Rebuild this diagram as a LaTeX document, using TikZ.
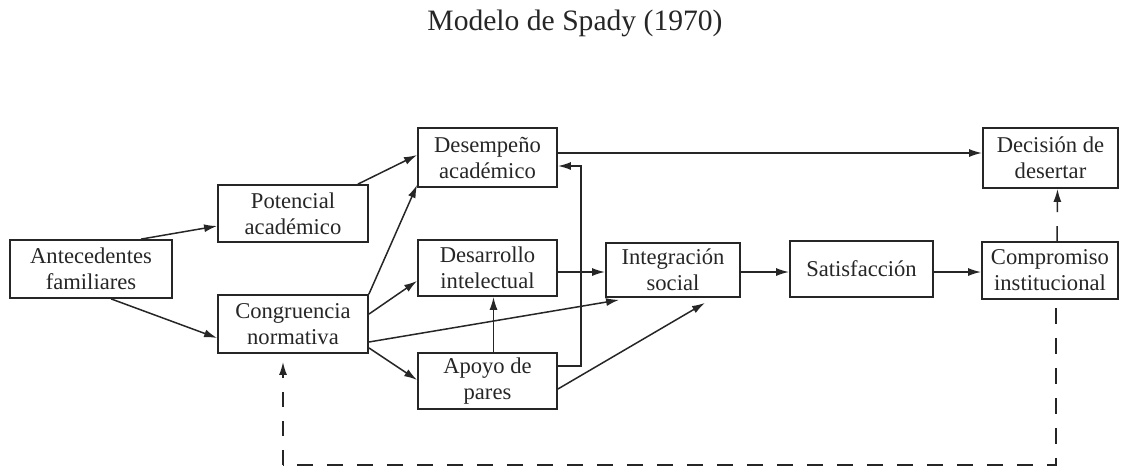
\documentclass[tikz,border=0pt]{standalone}
\usepackage{fontspec}
\setmainfont{Liberation Serif}
\usetikzlibrary{arrows.meta,calc}
\begin{document}
\begin{tikzpicture}[x=1pt,y=-1pt,
  box/.style={draw=black!85, line width=1.8pt, align=center, inner sep=0pt,
    font=\fontsize{22.6}{26}\selectfont, text=black!85},
  conn/.style={draw=black!85, line width=1.5pt, -{Latex[length=13pt,width=8pt]}},
  dconn/.style={conn, dash pattern=on 15pt off 14pt},
  dline/.style={draw=black!85, line width=1.5pt, dash pattern=on 16pt off 14pt}]
\useasboundingbox (0,0) rectangle (1128,467);
\node[text=black!85, font=\fontsize{29.6}{34}\selectfont] (title) at (575,23) {Modelo de Spady (1970)};
\node[box, minimum width=162pt, minimum height=58pt] (ant) at (91,269) {Antecedentes\\familiares};
\node[box, minimum width=150pt, minimum height=57pt] (pot) at (293,213.5) {Potencial\\académico};
\node[box, minimum width=150pt, minimum height=58pt] (con) at (293,324) {Congruencia\\normativa};
\node[box, minimum width=139pt, minimum height=59pt] (des) at (487.5,157.5) {Desempeño\\académico};
\node[box, minimum width=139pt, minimum height=56pt] (dev) at (487.5,268) {Desarrollo\\intelectual};
\node[box, minimum width=139pt, minimum height=56pt] (apo) at (487.5,381) {Apoyo de\\pares};
\node[box, minimum width=134pt, minimum height=54pt] (int) at (673,270) {Integración\\social};
\node[box, minimum width=143pt, minimum height=56pt] (sat) at (861.5,269) {Satisfacción};
\node[box, minimum width=136pt, minimum height=57pt] (com) at (1050,270.5) {Compromiso\\institucional};
\node[box, minimum width=135pt, minimum height=60pt] (dec) at (1050.5,158) {Decisión de\\desertar};

\draw[conn] ($(ant.north west)+(132,0)$) -- ($(pot.west)+(0,12.5)$);
\draw[conn] ($(ant.south west)+(102,0)$) -- ($(con.west)+(0,14)$);
\draw[conn] ($(pot.north east)+(-11,0)$) -- ($(des.west)+(0,-2.5)$);
\draw[conn] (con.north east) -- ($(des.south west)+(0,-3)$);
\draw[conn] ($(con.north east)+(0,20)$) -- ($(dev.south west)+(0,-16)$);
\draw[conn] ($(con.east)+(0,18)$) -- ($(int.south west)+(14,2)$);
\draw[conn] ($(con.south east)+(0,-6)$) -- ($(apo.west)+(0,-1)$);
\draw[conn] ($(dev.east)+(0,4)$) -- ($(int.west)+(0,2)$);
\draw[conn] ($(apo.north)+(6,0)$) -- ($(dev.south)+(6,0)$);
\draw[conn] ($(apo.east)+(0,-15)$) -- ++(23,0) |- ($(des.east)+(0,8.5)$);
\draw[conn] ($(apo.east)+(0,8)$) -- ($(int.south)+(32,5)$);
\draw[conn] ($(des.east)+(0,-4.5)$) -- ($(dec.west)+(0,-5)$);
\draw[conn] ($(int.east)+(0,2)$) -- ($(sat.west)+(0,3)$);
\draw[conn] ($(sat.east)+(0,3)$) -- ($(com.west)+(0,1.5)$);
\draw[dconn] ($(com.north)+(7,0)$) -- ($(dec.south)+(7,0)$);
\coordinate (fbr) at (1056,465);
\coordinate (fbl) at (283,465);
\draw[dline] ($(com.south -| fbr)+(0,8)$) -- (fbr) -- (fbl);
\draw[dconn] (fbl) -- ($(con.south -| fbl)+(0,8)$);
\end{tikzpicture}
\end{document}
